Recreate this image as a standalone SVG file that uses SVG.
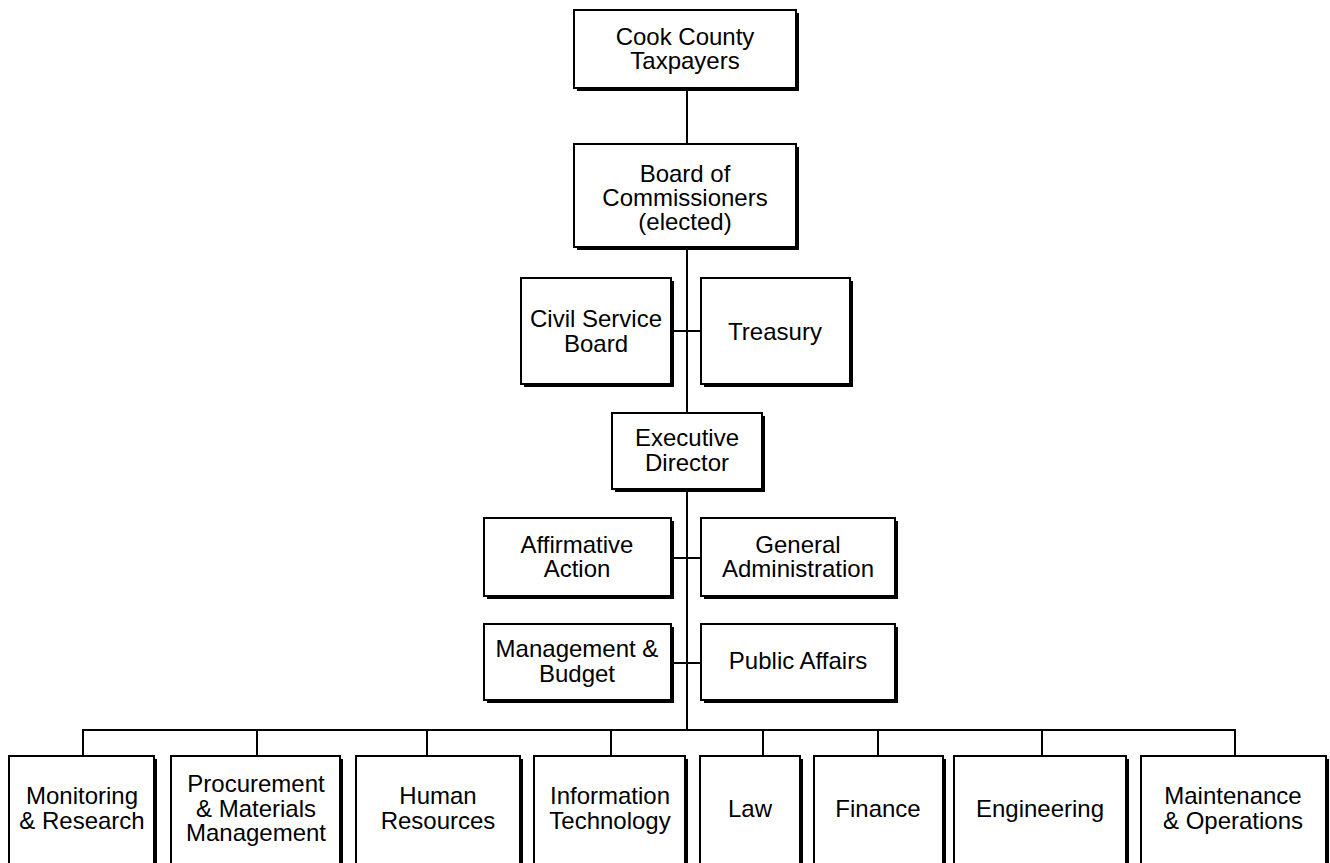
<svg xmlns="http://www.w3.org/2000/svg" width="1330" height="863" viewBox="0 0 1330 863">
<style>
.sh{fill:#000}
.bx{fill:#fff;stroke:#000;stroke-width:2}
.t{font-family:"Liberation Sans",Arial,sans-serif;font-size:24px;fill:#000;text-anchor:middle}
.c{stroke:#000;stroke-width:2;fill:none}
</style>
<rect width="1330" height="863" fill="#fff"/>
<g id="connectors">
<line class="c" x1="687" y1="88" x2="687" y2="731"/>
<line class="c" x1="671" y1="331" x2="701" y2="331"/>
<line class="c" x1="671" y1="558" x2="701" y2="558"/>
<line class="c" x1="671" y1="663" x2="701" y2="663"/>
<polyline class="c" points="83,756 83,730 1235,730 1235,756"/>
<line class="c" x1="257" y1="730" x2="257" y2="756"/>
<line class="c" x1="427" y1="730" x2="427" y2="756"/>
<line class="c" x1="611" y1="730" x2="611" y2="756"/>
<line class="c" x1="763" y1="730" x2="763" y2="756"/>
<line class="c" x1="878" y1="730" x2="878" y2="756"/>
<line class="c" x1="1042" y1="730" x2="1042" y2="756"/>
</g>
<g id="taxpayers">
<rect class="sh" x="577" y="13" width="222" height="78"/>
<rect class="bx" x="574" y="10" width="222" height="78"/>
<text class="t" x="685" y="45">Cook County</text>
<text class="t" x="685" y="69">Taxpayers</text>
</g>
<g id="board">
<rect class="sh" x="577" y="147" width="222" height="103"/>
<rect class="bx" x="574" y="144" width="222" height="103"/>
<text class="t" x="685" y="182">Board of</text>
<text class="t" x="685" y="206">Commissioners</text>
<text class="t" x="685" y="230">(elected)</text>
</g>
<g id="civil-service">
<rect class="sh" x="524" y="281" width="150" height="106"/>
<rect class="bx" x="521" y="278" width="150" height="106"/>
<text class="t" x="596" y="327">Civil Service</text>
<text class="t" x="596" y="352">Board</text>
</g>
<g id="treasury">
<rect class="sh" x="704" y="281" width="149" height="106"/>
<rect class="bx" x="701" y="278" width="149" height="106"/>
<text class="t" x="775" y="340">Treasury</text>
</g>
<g id="executive">
<rect class="sh" x="615" y="416" width="150" height="76"/>
<rect class="bx" x="612" y="413" width="150" height="76"/>
<text class="t" x="687" y="446">Executive</text>
<text class="t" x="687" y="471">Director</text>
</g>
<g id="affirmative">
<rect class="sh" x="487" y="521" width="187" height="78"/>
<rect class="bx" x="484" y="518" width="187" height="78"/>
<text class="t" x="577" y="553">Affirmative</text>
<text class="t" x="577" y="577">Action</text>
</g>
<g id="general-admin">
<rect class="sh" x="704" y="521" width="194" height="78"/>
<rect class="bx" x="701" y="518" width="194" height="78"/>
<text class="t" x="798" y="553">General</text>
<text class="t" x="798" y="577">Administration</text>
</g>
<g id="management-budget">
<rect class="sh" x="487" y="627" width="187" height="76"/>
<rect class="bx" x="484" y="624" width="187" height="76"/>
<text class="t" x="577" y="657">Management &amp;</text>
<text class="t" x="577" y="682">Budget</text>
</g>
<g id="public-affairs">
<rect class="sh" x="704" y="627" width="194" height="76"/>
<rect class="bx" x="701" y="624" width="194" height="76"/>
<text class="t" x="798" y="669">Public Affairs</text>
</g>
<g id="monitoring">
<rect class="sh" x="12" y="759" width="145" height="115"/>
<rect class="bx" x="9" y="756" width="145" height="115"/>
<text class="t" x="82" y="804">Monitoring</text>
<text class="t" x="82" y="829">&amp; Research</text>
</g>
<g id="procurement">
<rect class="sh" x="174" y="759" width="169" height="115"/>
<rect class="bx" x="171" y="756" width="169" height="115"/>
<text class="t" x="256" y="792">Procurement</text>
<text class="t" x="256" y="817">&amp; Materials</text>
<text class="t" x="256" y="841">Management</text>
</g>
<g id="human-resources">
<rect class="sh" x="359" y="759" width="164" height="115"/>
<rect class="bx" x="356" y="756" width="164" height="115"/>
<text class="t" x="438" y="804">Human</text>
<text class="t" x="438" y="829">Resources</text>
</g>
<g id="information-technology">
<rect class="sh" x="537" y="759" width="151" height="115"/>
<rect class="bx" x="534" y="756" width="151" height="115"/>
<text class="t" x="610" y="804">Information</text>
<text class="t" x="610" y="829">Technology</text>
</g>
<g id="law">
<rect class="sh" x="703" y="759" width="100" height="115"/>
<rect class="bx" x="700" y="756" width="100" height="115"/>
<text class="t" x="750" y="817">Law</text>
</g>
<g id="finance">
<rect class="sh" x="817" y="759" width="129" height="115"/>
<rect class="bx" x="814" y="756" width="129" height="115"/>
<text class="t" x="878" y="817">Finance</text>
</g>
<g id="engineering">
<rect class="sh" x="957" y="759" width="172" height="115"/>
<rect class="bx" x="954" y="756" width="172" height="115"/>
<text class="t" x="1040" y="817">Engineering</text>
</g>
<g id="maintenance">
<rect class="sh" x="1144" y="759" width="185" height="115"/>
<rect class="bx" x="1141" y="756" width="185" height="115"/>
<text class="t" x="1233" y="804">Maintenance</text>
<text class="t" x="1233" y="829">&amp; Operations</text>
</g>
</svg>
